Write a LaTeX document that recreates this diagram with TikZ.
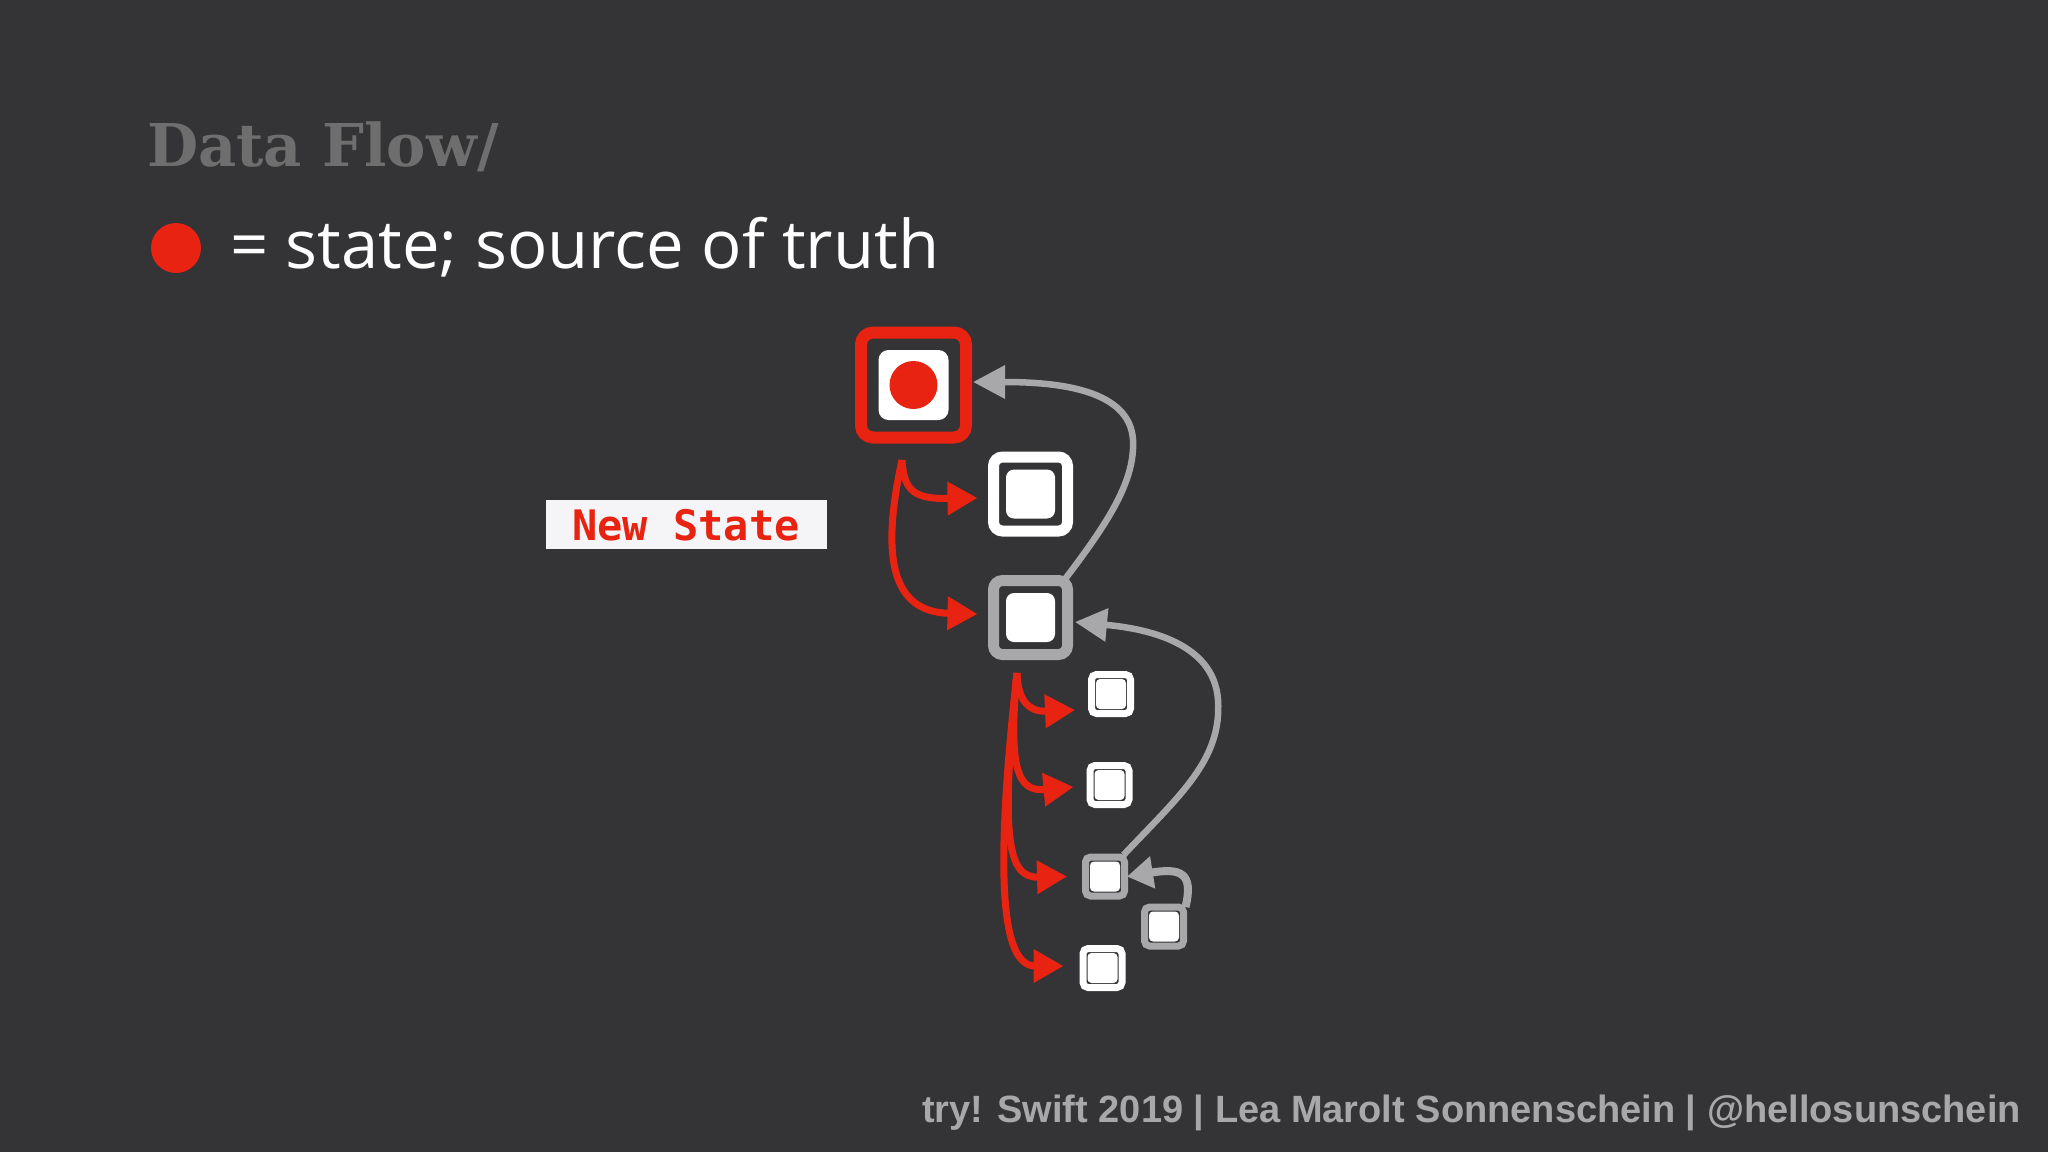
\documentclass[tikz,border=0pt]{standalone}
\usepackage{fontspec}
\setmainfont{Open Sans}
\newfontfamily\titlefont{DejaVu Serif}
\newfontfamily\codefont{DejaVu Sans Mono}
\newfontfamily\footfont{Liberation Sans}
\usetikzlibrary{arrows.meta}
\pgfdeclarelayer{back}
\pgfsetlayers{back,main}
\definecolor{bgc}{RGB}{52,51,53}
\definecolor{redc}{RGB}{232,35,18}
\definecolor{grayc}{RGB}{168,167,170}
\definecolor{titlec}{RGB}{110,110,110}
\definecolor{footc}{RGB}{168,168,170}
\definecolor{boxc}{RGB}{245,245,247}
\tikzset{
  topview/.style={draw=redc, line width=12pt, fill=bgc, rounded corners=12pt, minimum size=105pt, inner sep=0pt, outer sep=0pt},
  topin/.style={fill=white, rounded corners=10pt, minimum size=70pt, inner sep=0pt, outer sep=0pt},
  dotnode/.style={circle, fill=redc, minimum size=48pt, inner sep=0pt, outer sep=0pt},
  bigview/.style={draw=white, line width=11pt, fill=bgc, rounded corners=9pt, minimum size=74pt, inner sep=0pt, outer sep=0pt},
  bigin/.style={fill=white, rounded corners=8pt, minimum size=49pt, inner sep=0pt, outer sep=0pt},
  smallview/.style={draw=white, line width=7pt, fill=bgc, rounded corners=5pt, minimum size=39pt, inner sep=0pt, outer sep=0pt},
  smallin/.style={fill=white, rounded corners=4pt, minimum size=30pt, inner sep=0pt, outer sep=0pt},
  grayed/.style={draw=grayc},
  redarrow/.style={draw=redc, line width=7pt, -{Triangle[length=30pt,width=32pt]}},
  grayarrow/.style={draw=grayc, line width=6.5pt, -{Triangle[length=32pt,width=32pt]}},
  grayarrowsmall/.style={draw=grayc, line width=8pt, -{Triangle[length=26pt,width=31pt]}},
}
\begin{document}
\begin{tikzpicture}[x=1pt,y=-1pt]
\useasboundingbox (0,0) rectangle (2048,1152);
\begin{pgfonlayer}{back}
\fill[bgc] (0,0) rectangle (2048,1152);
\end{pgfonlayer}

% texts
\node[anchor=base west, inner sep=0pt, text=titlec, font=\titlefont\bfseries\fontsize{59}{70}\selectfont] (title) at (147,166) {Data Flow/};
\node[dotnode, minimum size=50pt] (legdot) at (176,248) {};
\node[anchor=base west, inner sep=0pt, text=white, font=\fontsize{67}{80}\selectfont] (legend) at (230,268) {= state; source of truth};
\node[anchor=base west, inner sep=0pt, text=footc, font=\footfont\bfseries\fontsize{38}{46}\selectfont] (footer) at (922,1122) {try! Swift 2019 | Lea Marolt Sonnenschein | @hellosunschein};

% New State label
\node[fill=boxc, minimum width=281pt, minimum height=49pt, inner sep=0pt] (nsbox) at (686.5,524.5) {};
\node[anchor=base, inner sep=0pt, text=redc, font=\codefont\bfseries\fontsize{42}{50}\selectfont] (nstext) at (686,540) {New State};

% views
\node[topview] (n0) at (913.5,385) {};
\node[topin] (n0i) at (n0) {};
\node[dotnode] (n0d) at (n0) {};

\node[bigview] (n1) at (1030.5,494) {};
\node[bigin] (n1i) at (n1) {};
\node[bigview, grayed] (n2) at (1030.5,617.5) {};
\node[bigin] (n2i) at (n2) {};

\node[smallview] (n3) at (1111,694) {};
\node[smallin] (n3i) at (n3) {};
\node[smallview] (n4) at (1109.5,785) {};
\node[smallin] (n4i) at (n4) {};
\node[smallview, grayed] (n5) at (1105,876.5) {};
\node[smallin] (n5i) at (n5) {};
\node[smallview, grayed] (n6) at (1164,926.5) {};
\node[smallin] (n6i) at (n6) {};
\node[smallview] (n7) at (1102.5,968) {};
\node[smallin] (n7i) at (n7) {};

\coordinate (r0) at (902,460);
\coordinate (r2) at (1017,673);

\begin{pgfonlayer}{back}
% red data flow
\draw[redarrow] (r0) .. controls (904,492) and (915,499) .. ([xshift=-16pt,yshift=-4pt]n1.west);
\draw[redarrow] (r0) .. controls (880,560) and (893,612) .. ([xshift=-16pt,yshift=3.5pt]n2.west);
\draw[redarrow] (r2) .. controls (1018,700) and (1028,712) .. ([xshift=-16.5pt,yshift=-16pt]n3.west);
\draw[redarrow] (r2) .. controls (1008,770) and (1018,792) .. ([xshift=-16.5pt,yshift=-2pt]n4.west);
\draw[redarrow] (r2) .. controls (1000,840) and (1008,878) .. ([xshift=-18.5pt]n5.west);
\draw[redarrow] (r2) .. controls (995,870) and (1000,966) .. ([xshift=-19.5pt,yshift=2pt]n7.west);
% gray back flow
\draw[grayarrow] ([xshift=-2pt,yshift=2pt]n2.north east) .. controls (1110,520) and (1135,480) .. (1133,440) .. controls (1130,390) and (1060,382) .. ([xshift=7pt,yshift=3pt]n0.east);
\draw[grayarrow] ([xshift=-1pt,yshift=2pt]n5.north east) .. controls (1180,795) and (1222,760) .. (1218,700) .. controls (1214,640) and (1140,628) .. ([xshift=7.5pt,yshift=-4.5pt]n2.east);
\draw[grayarrowsmall] ([xshift=2pt]n6.north east) .. controls (1194,872) and (1180,868) .. ([xshift=2.5pt]n5.east);
\end{pgfonlayer}
\end{tikzpicture}
\end{document}
